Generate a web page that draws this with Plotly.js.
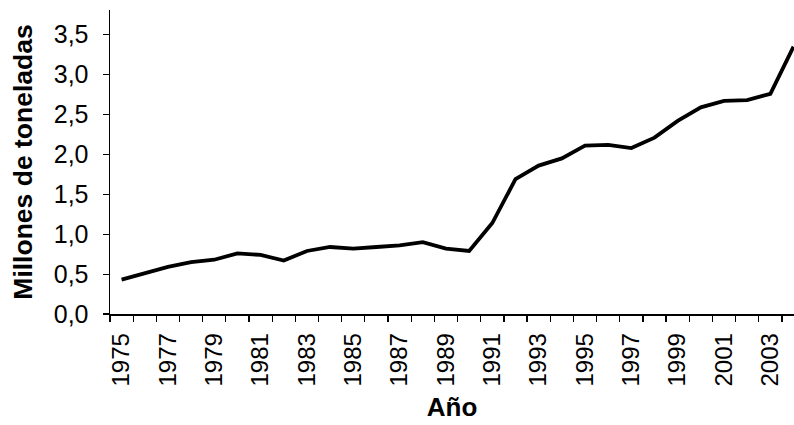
<!DOCTYPE html>
<html>
<head>
<meta charset="utf-8">
<script src="https://cdn.plot.ly/plotly-3.0.1.min.js"></script>
<style>html,body{margin:0;padding:0;background:#fff;}#chart{width:794px;height:425px;}</style>
</head>
<body>
<div id="chart"></div>
<script>
// Data
const years = [1975,1976,1977,1978,1979,1980,1981,1982,1983,1984,1985,1986,1987,1988,1989,
               1990,1991,1992,1993,1994,1995,1996,1997,1998,1999,2000,2001,2002,2003,2004];
const tonnes = [0.43,0.51,0.59,0.65,0.68,0.76,0.74,0.67,0.79,0.84,0.82,0.84,0.86,0.90,0.82,
                0.79,1.14,1.69,1.86,1.95,2.11,2.12,2.08,2.21,2.42,2.59,2.67,2.68,2.76,3.35];
const tickYears = [1975,1977,1979,1981,1983,1985,1987,1989,1991,1993,1995,1997,1999,2001,2003];
const tickLabels = tickYears.map(String);
const xTitle = "Año";
const yTitle = "Millones de toneladas";

const FONT = '"Liberation Sans", Arial, Helvetica, sans-serif';

const trace = {
  x: years, y: tonnes, type: 'scatter', mode: 'lines',
  line: {color: '#000', width: 3.8}, hoverinfo: 'x+y'
};

const layout = {
  width: 794, height: 425,
  margin: {l: 110, r: 0, t: 10, b: 111},
  paper_bgcolor: '#fff', plot_bgcolor: '#fff',
  separators: ',.',
  showlegend: false,
  font: {family: FONT, color: '#000', size: 24},
  xaxis: {
    range: [1974.5, 2004.02],
    showgrid: false, zeroline: false,
    showline: true, linecolor: '#000', linewidth: 1.5,
    tickmode: 'array', tickvals: tickYears, ticktext: tickLabels,
    tickangle: -90,
    ticks: 'outside', ticklen: 8, tickcolor: 'rgba(0,0,0,0)',
    tickfont: {family: FONT, size: 24, color: '#000'},
    minor: {
      ticks: 'outside', ticklen: 6, tickwidth: 1.2, tickcolor: '#000',
      tickmode: 'array', tickvals: years.map(v => v - 0.5).concat([2004.5]),
      showgrid: false
    },
    title: {text: xTitle, font: {family: FONT, size: 26, color: '#000', weight: 'bold'}, standoff: 12},
    automargin: false
  },
  yaxis: {
    range: [0, 3.81],
    showgrid: false, zeroline: false,
    showline: true, linecolor: '#000', linewidth: 1.5,
    tickmode: 'linear', tick0: 0, dtick: 0.5, tickformat: '.1f',
    ticks: 'outside', ticklen: 6, tickwidth: 1.2, tickcolor: '#000',
    ticklabelstandoff: 9,
    tickfont: {family: FONT, size: 25, color: '#000'},
    title: {text: yTitle, font: {family: FONT, size: 26.5, color: '#000', weight: 'bold'}, standoff: 13},
    automargin: false
  }
};

Plotly.newPlot('chart', [trace], layout, {displayModeBar: false, staticPlot: true});
</script>
</body>
</html>
